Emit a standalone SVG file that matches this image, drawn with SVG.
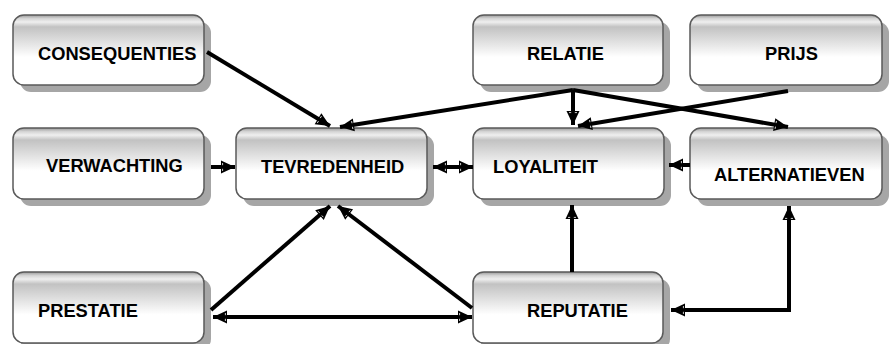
<svg xmlns="http://www.w3.org/2000/svg" width="893" height="344" viewBox="0 0 893 344">
<defs>
<linearGradient id="gloss" x1="0" y1="0" x2="0" y2="1">
<stop offset="0" stop-color="#9a9a9a"/>
<stop offset="0.05" stop-color="#d4d4d4"/>
<stop offset="0.1" stop-color="#efefef"/>
<stop offset="0.17" stop-color="#c2c2c2"/>
<stop offset="0.6" stop-color="#ffffff"/>
<stop offset="1" stop-color="#ffffff"/>
</linearGradient>
<marker id="ah" markerUnits="userSpaceOnUse" markerWidth="16" markerHeight="16" viewBox="0 0 16 16" refX="15" refY="8" orient="auto-start-reverse">
<path d="M1,1.5 L15,8 L1,14.5 Z" fill="#000"/>
<path d="M2.6,4 L2.6,6.2 M2.6,9.8 L2.6,12" stroke="#fff" stroke-width="0.8"/>
</marker>
</defs>
<style>
.sh{fill:#a6a6a6}
.bx{fill:url(#gloss);stroke:#5a5a5a;stroke-width:1.5}
.t{font-family:"Liberation Sans",Arial,sans-serif;font-weight:bold;font-size:18.3px;fill:#000}
.c{fill:none;stroke:#000;stroke-width:4}
</style>
<rect width="893" height="344" fill="#fff"/>
<g id="consequenties"><rect class="sh" x="20" y="22" width="191" height="70" rx="11"/><rect class="bx" x="13" y="15" width="191" height="70" rx="11"/><text class="t" x="38" y="60">CONSEQUENTIES</text></g>
<g id="relatie"><rect class="sh" x="480" y="22" width="190" height="70" rx="11"/><rect class="bx" x="473" y="15" width="190" height="70" rx="11"/><text class="t" x="527" y="60">RELATIE</text></g>
<g id="prijs"><rect class="sh" x="697" y="22" width="192" height="70" rx="11"/><rect class="bx" x="690" y="15" width="192" height="70" rx="11"/><text class="t" x="765" y="60">PRIJS</text></g>
<g id="verwachting"><rect class="sh" x="20" y="135" width="191" height="71" rx="11"/><rect class="bx" x="13" y="128" width="191" height="71" rx="11"/><text class="t" x="46" y="172">VERWACHTING</text></g>
<g id="tevredenheid"><rect class="sh" x="243" y="135" width="191" height="71" rx="11"/><rect class="bx" x="236" y="128" width="191" height="71" rx="11"/><text class="t" x="261" y="173">TEVREDENHEID</text></g>
<g id="loyaliteit"><rect class="sh" x="480" y="135" width="191" height="71" rx="11"/><rect class="bx" x="473" y="128" width="191" height="71" rx="11"/><text class="t" x="493" y="173">LOYALITEIT</text></g>
<g id="alternatieven"><rect class="sh" x="697" y="135" width="192" height="71" rx="11"/><rect class="bx" x="690" y="128" width="192" height="71" rx="11"/><text class="t" x="714" y="181">ALTERNATIEVEN</text></g>
<g id="prestatie"><rect class="sh" x="20" y="279" width="191" height="71" rx="11"/><rect class="bx" x="13" y="272" width="191" height="71" rx="11"/><text class="t" x="38" y="317">PRESTATIE</text></g>
<g id="reputatie"><rect class="sh" x="480" y="279" width="190" height="71" rx="11"/><rect class="bx" x="473" y="272" width="190" height="71" rx="11"/><text class="t" x="527" y="317">REPUTATIE</text></g>
<g id="connectors">
<path class="c" d="M207,52 L330,126" marker-end="url(#ah)"/>
<path class="c" d="M573,90 L340,127" marker-end="url(#ah)"/>
<path class="c" d="M573,90 L573,125" marker-end="url(#ah)"/>
<path class="c" d="M573,90 L788,127" marker-end="url(#ah)"/>
<path class="c" d="M788,91 L578,126" marker-end="url(#ah)"/>
<path class="c" d="M211,167 L235,167" marker-end="url(#ah)"/>
<path class="c" d="M433,167 L473,167" marker-start="url(#ah)" marker-end="url(#ah)"/>
<path class="c" d="M690,165 L669,165" marker-end="url(#ah)"/>
<path class="c" d="M211,310 L330,206" marker-end="url(#ah)"/>
<path class="c" d="M472,308 L338,206" marker-end="url(#ah)"/>
<path class="c" d="M213,317 L472,317" marker-start="url(#ah)" marker-end="url(#ah)"/>
<path class="c" d="M572,272 L572,205" marker-end="url(#ah)"/>
<path class="c" d="M789,206 L789,310 L671,310" marker-start="url(#ah)" marker-end="url(#ah)"/>
</g>
</svg>
